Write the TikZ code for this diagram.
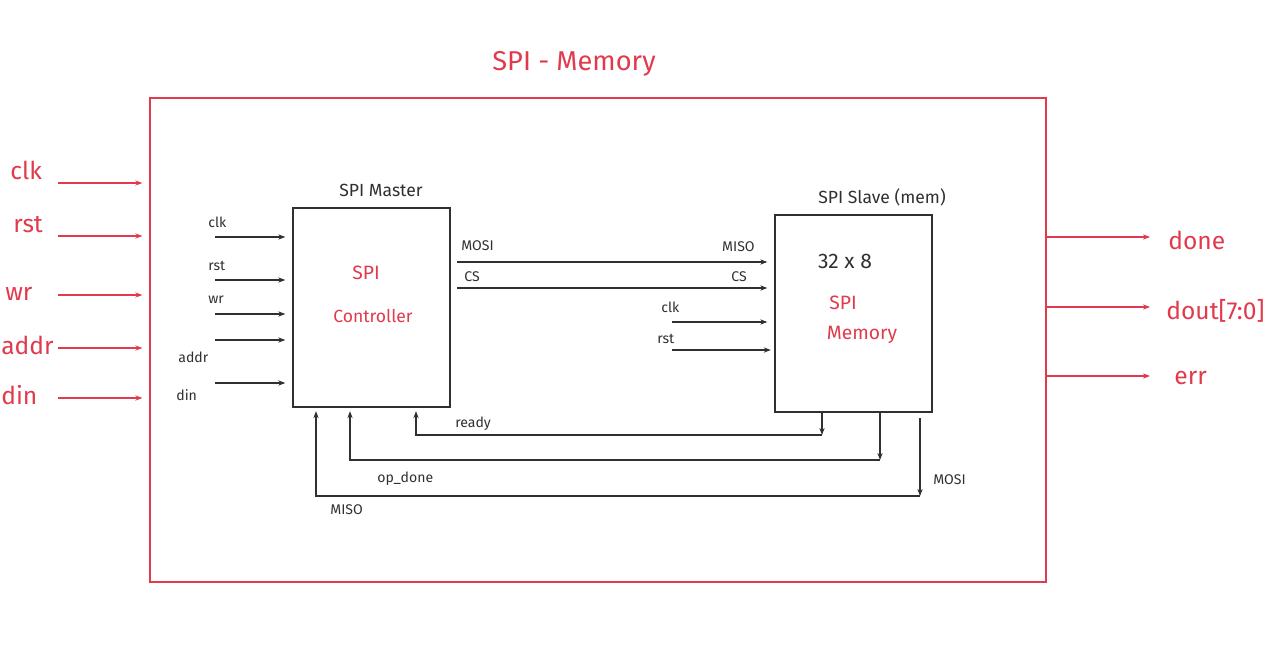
\documentclass[tikz,border=0pt]{standalone}
\usepackage{fontspec}
\setmainfont{Fira Sans}
\usepackage{xcolor}
\usetikzlibrary{arrows.meta,positioning}
\definecolor{SketchRed}{HTML}{E03A4C}
\definecolor{SketchInk}{HTML}{303030}
\tikzset{
  blk/.style={draw=SketchInk,line width=0.8pt,minimum width=3.14cm,inner sep=0pt},
  sig/.style={draw=SketchInk,line width=0.6pt,-{Stealth[length=4pt,width=3pt]}},
  port/.style={draw=SketchRed,line width=0.7pt,-{Stealth[length=4pt,width=3pt]}},
  lbl/.style={text=SketchInk,font=\fontsize{8}{9}\selectfont,inner sep=0pt},
  rlbl/.style={text=SketchRed,font=\fontsize{14}{16}\selectfont,inner sep=0pt}
}
\begin{document}
\begin{tikzpicture}[x=0.02cm,y=-0.02cm]
    \useasboundingbox (0,0) rectangle (1280,655);

    % outer block
    \node[draw=SketchRed,line width=0.8pt,minimum width=17.92cm,minimum height=9.68cm,inner sep=0pt] (top) at (598,340) {};
    \node[text=SketchRed,font=\fontsize{15.5}{17}\selectfont] (title) at (574,64) {SPI - Memory};

    % inputs of the top
    \foreach \nm/\y/\lx/\ly in {clk/183/10/170, rst/236/13/225, wr/295/5/294, addr/348/1/345, din/398/1/395} {
      \node[rlbl,anchor=west] (in-\nm) at (\lx,\ly) {\nm};
      \coordinate (ti-\nm) at (58,\y);
      \draw[port,shorten >=4pt] (ti-\nm) -- (ti-\nm -| top.west);
    }
    % outputs of the top
    \foreach \nm/\y in {done/237, dout/307, err/376} {
      \coordinate (to-\nm) at (1150,\y);
      \draw[port] (to-\nm -| top.east) -- (to-\nm);
    }
    \node[rlbl,anchor=west] (out-done) at (1168,240) {done};
    \node[rlbl,anchor=west] (out-dout) at (1166,311) {dout[7:0]};
    \node[rlbl,anchor=west] (out-err) at (1174,378) {err};

    % master
    \node[blk,minimum height=3.98cm] (m) at (371.5,307.5) {};
    \node[lbl,font=\fontsize{10}{11}\selectfont] (m-name) at (381,190) {SPI Master};
    \node[text=SketchRed,font=\fontsize{11}{12}\selectfont] (m-spi) at (366,273) {SPI};
    \node[text=SketchRed,font=\fontsize{10}{12}\selectfont] (m-ctl) at (373,316) {Controller};

    \foreach \nm/\y in {clk/237, rst/280, wr/314, addr/340, din/383} {
      \coordinate (mi-\nm) at (215,\y);
      \draw[sig,shorten >=4pt] (mi-\nm) -- (mi-\nm -| m.west);
    }
    \node[lbl,anchor=west] (l-clk) at (208,222) {clk};
    \node[lbl,anchor=west] (l-rst) at (208,266) {rst};
    \node[lbl,anchor=west] (l-wr) at (208,300) {wr};
    \node[lbl,anchor=west] (l-addr) at (178,357) {addr};
    \node[lbl,anchor=west] (l-din) at (176,395) {din};

    % slave
    \node[blk,minimum height=3.94cm] (s) at (853.5,313.5) {};
    \node[lbl,font=\fontsize{10}{11}\selectfont] (s-name) at (882,197) {SPI Slave (mem)};
    \node[text=SketchInk,font=\fontsize{12}{14}\selectfont] (s-size) at (845,261) {32 x 8};
    \node[text=SketchRed,font=\fontsize{11}{12}\selectfont] (s-spi) at (843,303) {SPI};
    \node[text=SketchRed,font=\fontsize{11}{12}\selectfont] (s-mem) at (862,335) {Memory};

    % master -> slave
    \coordinate (mosi-a) at (457,262);
    \coordinate (cs-a) at (457,288);
    \draw[sig,shorten >=4pt] (mosi-a) -- (mosi-a -| s.west);
    \draw[sig,shorten >=4pt] (cs-a) -- (cs-a -| s.west);
    \node[lbl,anchor=west] (l-mosi) at (461,246) {MOSI};
    \node[lbl,anchor=west] (l-cs) at (464,277) {CS};
    \node[lbl,anchor=east] (l-miso) at (755,247) {MISO};
    \node[lbl,anchor=east] (l-cs2) at (747,277) {CS};

    \coordinate (sclk) at (672,322);
    \coordinate (srst) at (672,350);
    \draw[sig,shorten >=4pt] (sclk) -- (sclk -| s.west);
    \draw[sig,shorten >=2pt] (srst) -- (srst -| s.west);
    \node[lbl,anchor=west] (l-sclk) at (661,307) {clk};
    \node[lbl,anchor=west] (l-srst) at (657,339) {rst};

    % slave -> master
    \coordinate (rdy-b) at (822,435);
    \coordinate (rdy-c) at (416,435);
    \draw[sig] (rdy-b |- s.south) -- (rdy-b);
    \draw[sig,shorten >=2pt] (rdy-b) -- (rdy-c) -- (rdy-c |- m.south);
    \node[lbl,anchor=west] (l-rdy) at (455,424) {ready};

    \coordinate (opd-b) at (880,460);
    \coordinate (opd-c) at (350,460);
    \draw[sig] (opd-b |- s.south) -- (opd-b);
    \draw[sig,shorten >=2pt] (opd-b) -- (opd-c) -- (opd-c |- m.south);
    \node[lbl,anchor=west] (l-opd) at (377,479) {op\_done};

    \coordinate (miso-a) at (920,418);
    \coordinate (miso-b) at (920,496);
    \coordinate (miso-c) at (316,496);
    \draw[sig] (miso-a) -- (miso-b);
    \draw[sig,shorten >=2pt] (miso-b) -- (miso-c) -- (miso-c |- m.south);
    \node[lbl,anchor=west] (l-mosi2) at (933,480) {MOSI};
    \node[lbl,anchor=west] (l-miso2) at (330,510) {MISO};
\end{tikzpicture}
\end{document}
